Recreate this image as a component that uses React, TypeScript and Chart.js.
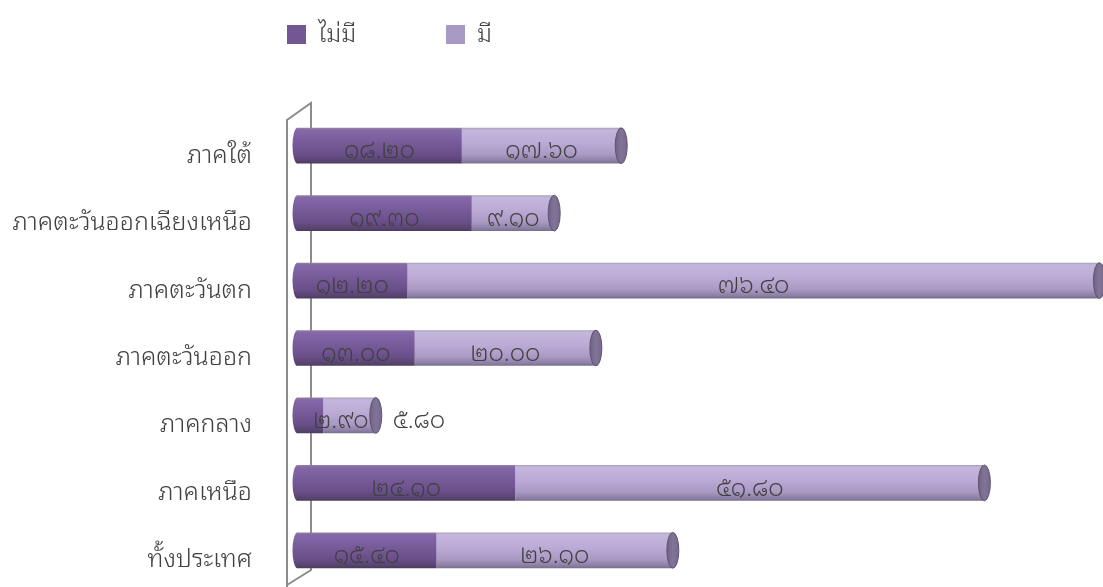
import React, { useEffect, useRef } from "react";
import { Chart, registerables } from "chart.js";

Chart.register(...registerables);

const categories = ["ภาคใต้", "ภาคตะวันออกเฉียงเหนือ", "ภาคตะวันตก", "ภาคตะวันออก", "ภาคกลาง", "ภาคเหนือ", "ทั้งประเทศ"];
const seriesNames = ["ไม่มี", "มี"];
const noneValues = [18.2, 19.3, 12.2, 13.0, 2.9, 24.1, 15.4];
const haveValues = [17.6, 9.1, 76.4, 20.0, 5.8, 51.8, 26.1];

const FONT = "'Noto Sans Thai Looped', Tahoma, 'Loma', 'Garuda', 'Waree', 'Sawasdee', 'Norasi', 'Noto Sans Thai', sans-serif";
const DARK = "#725794";
const LIGHT = "#a999c5";
const BAR_PCT = 0.53;

const thaiDigits = "๐๑๒๓๔๕๖๗๘๙";
const toThai = (v: number) => v.toFixed(2).replace(/\d/g, (d) => thaiDigits[+d]);

function makeGrad(stops: [number, string][], solid: string) {
  return (ctx: any) => {
    const chart = ctx.chart;
    const area = chart.chartArea;
    if (!area || ctx.dataIndex === undefined) return solid;
    const yc = chart.scales.y.getPixelForValue(ctx.dataIndex);
    const h = ((area.bottom - area.top) / categories.length) * BAR_PCT;
    const g = chart.ctx.createLinearGradient(0, yc - h / 2, 0, yc + h / 2);
    stops.forEach(([o, c]) => g.addColorStop(o, c));
    return g;
  };
}

const darkStops: [number, string][] = [
  [0, "#8f84a0"],
  [0.06, "#8568a8"],
  [0.35, "#7a5d9c"],
  [0.75, "#694f89"],
  [0.93, "#57436f"],
  [1, "#4a3b5c"],
];
const lightStops: [number, string][] = [
  [0, "#a8a0b4"],
  [0.06, "#c4b6dc"],
  [0.4, "#bcabd6"],
  [0.75, "#a999c3"],
  [0.93, "#8b7ea3"],
  [1, "#786d8c"],
];

const decorPlugin = {
  id: "decor",
  beforeDatasetsDraw(chart: any) {
    const { ctx, chartArea } = chart;
    const L = chartArea.left;
    const T = chartArea.top;
    const H = chart.height;
    ctx.save();
    ctx.strokeStyle = "#8c8c8c";
    ctx.lineWidth = 2;
    ctx.beginPath();
    ctx.moveTo(L - 10, H + 2);
    ctx.lineTo(L - 10, T + 8);
    ctx.lineTo(L + 14, T - 9);
    ctx.lineTo(L + 14, H - 17);
    ctx.lineTo(L - 10, H - 2);
    ctx.stroke();
    ctx.restore();
  },
  afterDatasetsDraw(chart: any) {
    const { ctx } = chart;
    const m0 = chart.getDatasetMeta(0);
    const m1 = chart.getDatasetMeta(1);
    ctx.save();
    m0.data.forEach((bar: any, i: number) => {
      const h = bar.height;
      const yc = bar.y;
      const g = ctx.createLinearGradient(0, yc - h / 2, 0, yc + h / 2);
      darkStops.forEach(([o, c]) => g.addColorStop(o, c));
      ctx.fillStyle = g;
      ctx.beginPath();
      ctx.ellipse(bar.base + 0.5, yc, 5, h / 2, 0, Math.PI / 2, (Math.PI * 3) / 2);
      ctx.closePath();
      ctx.fill();
      const end = m1.data[i].x;
      const cg = ctx.createLinearGradient(end - 6, 0, end + 6, 0);
      cg.addColorStop(0, "#6f6385");
      cg.addColorStop(0.5, "#817496");
      cg.addColorStop(1, "#76698c");
      ctx.fillStyle = cg;
      ctx.strokeStyle = "#5f5474";
      ctx.lineWidth = 1;
      ctx.beginPath();
      ctx.ellipse(end, yc, 6, h / 2, 0, 0, Math.PI * 2);
      ctx.fill();
      ctx.stroke();
    });
    ctx.font = `300 24px ${FONT}`;
    ctx.fillStyle = "#404040";
    ctx.textBaseline = "middle";
    [m0, m1].forEach((meta: any, di: number) => {
      const vals = di === 0 ? noneValues : haveValues;
      meta.data.forEach((bar: any, i: number) => {
        const txt = toThai(vals[i]);
        const tw = ctx.measureText(txt).width;
        const w = Math.abs(bar.x - bar.base);
        const y = bar.y + 6;
        if (w >= tw + 20) {
          ctx.textAlign = "center";
          ctx.fillText(txt, (bar.x + bar.base) / 2, y);
        } else if (di === 0) {
          ctx.textAlign = "left";
          ctx.fillText(txt, bar.base + 16, y);
        } else {
          ctx.textAlign = "left";
          ctx.fillText(txt, bar.x + 17, y);
        }
      });
    });
    ctx.restore();
  },
};

export default function App() {
  const ref = useRef<HTMLCanvasElement | null>(null);
  useEffect(() => {
    document.body.style.margin = "0";
    if (!ref.current) return;
    const chart = new Chart(ref.current, {
      type: "bar",
      data: {
        labels: categories,
        datasets: [
          {
            label: seriesNames[0],
            data: noneValues,
            backgroundColor: makeGrad(darkStops, DARK),
            borderWidth: 0,
            barPercentage: BAR_PCT,
            categoryPercentage: 1,
          },
          {
            label: seriesNames[1],
            data: haveValues,
            backgroundColor: makeGrad(lightStops, LIGHT),
            borderWidth: 0,
            barPercentage: BAR_PCT,
            categoryPercentage: 1,
          },
        ],
      },
      options: {
        indexAxis: "y",
        animation: false,
        responsive: false,
        layout: { padding: { top: 112, bottom: 3, left: 0, right: 0 } },
        plugins: { legend: { display: false }, tooltip: { enabled: false } },
        scales: {
          x: { stacked: true, min: 0, max: 89, display: false },
          y: {
            stacked: true,
            grid: { display: true, drawOnChartArea: false, drawTicks: true, tickLength: 45, color: "rgba(0,0,0,0)" },
            border: { display: false },
            ticks: {
              padding: 0,
              labelOffset: 10,
              color: "#404040",
              font: { size: 25, family: FONT, weight: "300" },
            },
            afterFit: (scale: any) => {
              scale.width = 297;
              scale.paddingTop = 0;
              scale.paddingBottom = 0;
            },
          },
        },
      },
      plugins: [decorPlugin],
    });
    return () => chart.destroy();
  }, []);

  const legendItem = (name: string, color: string, left: number) => (
    <div
      style={{
        position: "absolute",
        left,
        top: 12,
        display: "flex",
        alignItems: "center",
        fontFamily: FONT,
        fontSize: 24,
        fontWeight: 300,
        color: "#404040",
      }}
    >
      <span style={{ display: "inline-block", width: 19, height: 19, background: color, marginRight: 12, marginTop: 6 }} />
      <span>{name}</span>
    </div>
  );

  return (
    <div style={{ position: "relative", width: 1103, height: 587, background: "#fff" }}>
      <canvas ref={ref} width={1103} height={587} style={{ display: "block" }} />
      {legendItem(seriesNames[0], DARK, 287)}
      {legendItem(seriesNames[1], LIGHT, 446)}
    </div>
  );
}
